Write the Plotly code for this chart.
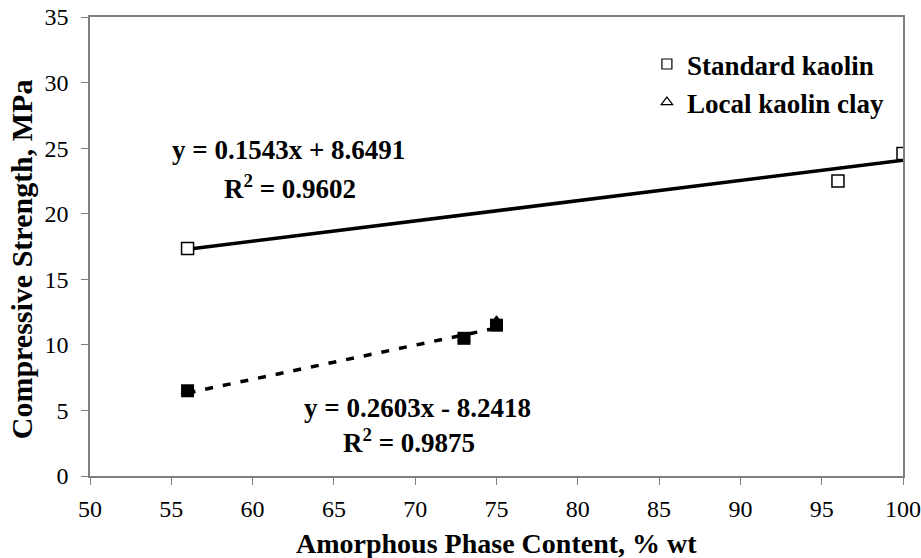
import plotly.graph_objects as go

std_x = [56, 96, 100]
std_y = [17.35, 22.5, 24.6]
local_x = [56, 73, 75]
local_y = [6.5, 10.5, 11.8]
local_sq_y = [6.5, 10.5, 11.5]
std_fit = (0.1543, 8.6491)
local_fit = (0.2603, -8.2418)
x_ticks = [50, 55, 60, 65, 70, 75, 80, 85, 90, 95, 100]
y_ticks = [0, 5, 10, 15, 20, 25, 30, 35]

FONT = "Liberation Serif"

fig = go.Figure()

sx = [min(std_x), max(std_x)]
fig.add_trace(go.Scatter(x=sx, y=[std_fit[0] * v + std_fit[1] for v in sx], mode="lines",
                         line=dict(color="black", width=3.5), showlegend=False, hoverinfo="skip"))
lx = [min(local_x), max(local_x)]
fig.add_trace(go.Scatter(x=lx, y=[local_fit[0] * v + local_fit[1] for v in lx], mode="lines",
                         line=dict(color="black", width=3.5, dash="8px,10px"), showlegend=False, hoverinfo="skip"))

fig.add_trace(go.Scatter(x=std_x, y=std_y, mode="markers", showlegend=False,
                         marker=dict(symbol="square", size=12, color="white",
                                     line=dict(color="black", width=1.5))))
fig.add_trace(go.Scatter(x=local_x, y=local_y, mode="markers", showlegend=False,
                         marker=dict(symbol="triangle-up", size=11, color="black",
                                     line=dict(color="black", width=1))))
fig.add_trace(go.Scatter(x=local_x, y=local_sq_y, mode="markers", showlegend=False,
                         marker=dict(symbol="square", size=13, color="black",
                                     line=dict(color="black", width=0))))

# legend entries
fig.add_trace(go.Scatter(x=[None], y=[None], mode="markers", name="Standard kaolin",
                         marker=dict(symbol="square", size=10, color="white",
                                     line=dict(color="black", width=1.2))))
fig.add_trace(go.Scatter(x=[None], y=[None], mode="markers", name="Local kaolin clay",
                         marker=dict(symbol="triangle-up", size=10, color="white",
                                     line=dict(color="black", width=1.2))))

EQ = dict(family=FONT, size=27, color="black")
fig.add_annotation(x=0.244, y=0.710, xref="paper", yref="paper", showarrow=False, xanchor="center",
                   yanchor="middle", text="<b>y = 0.1543x + 8.6491</b>", font=EQ)
fig.add_annotation(x=0.246, y=0.630, xref="paper", yref="paper", showarrow=False, xanchor="center",
                   yanchor="middle", text="<b>R<sup>2</sup> = 0.9602</b>", font=EQ)
fig.add_annotation(x=0.403, y=0.148, xref="paper", yref="paper", showarrow=False, xanchor="center",
                   yanchor="middle", text="<b>y = 0.2603x - 8.2418</b>", font=EQ)
fig.add_annotation(x=0.392, y=0.076, xref="paper", yref="paper", showarrow=False, xanchor="center",
                   yanchor="middle", text="<b>R<sup>2</sup> = 0.9875</b>", font=EQ)

# axis titles
fig.add_annotation(x=0.5, y=-0.148, xref="paper", yref="paper", showarrow=False, xanchor="center",
                   yanchor="middle", text="<b>Amorphous Phase Content, % wt</b>",
                   font=dict(family=FONT, size=28, color="black"))
fig.add_annotation(x=-0.085, y=0.472, xref="paper", yref="paper", showarrow=False, xanchor="center",
                   yanchor="middle", textangle=-90, text="<b>Compressive Strength, MPa</b>",
                   font=dict(family=FONT, size=30, color="black"))

fig.update_layout(
    width=921, height=558,
    margin=dict(l=90, r=18, t=17, b=82, autoexpand=False),
    paper_bgcolor="white", plot_bgcolor="white",
    font=dict(family=FONT, color="black"),
    legend=dict(x=0.685, y=0.95, xanchor="left", yanchor="top",
                font=dict(family=FONT, size=27, color="black", weight="bold"),
                bgcolor="rgba(0,0,0,0)", itemwidth=30, tracegroupgap=0),
    xaxis=dict(range=[50, 100], tickvals=x_ticks, showgrid=False, zeroline=False, automargin=False,
               showline=True, mirror=True, linecolor="#808080", linewidth=1.5,
               ticks="outside", ticklen=7, tickcolor="#808080", ticklabelstandoff=3,
               ticklabeloverflow="allow",
               tickfont=dict(family=FONT, size=24, color="black")),
    yaxis=dict(range=[0, 35], tickvals=y_ticks, showgrid=False, zeroline=False, automargin=False,
               showline=True, mirror=True, linecolor="#808080", linewidth=1.5,
               ticks="outside", ticklen=7, tickcolor="#808080", ticklabelstandoff=8,
               ticklabeloverflow="allow",
               tickfont=dict(family=FONT, size=24, color="black")),
)

fig.write_html("out.html", config={"displayModeBar": False},
               post_script="document.body.style.margin='0';document.body.style.overflow='hidden';")
